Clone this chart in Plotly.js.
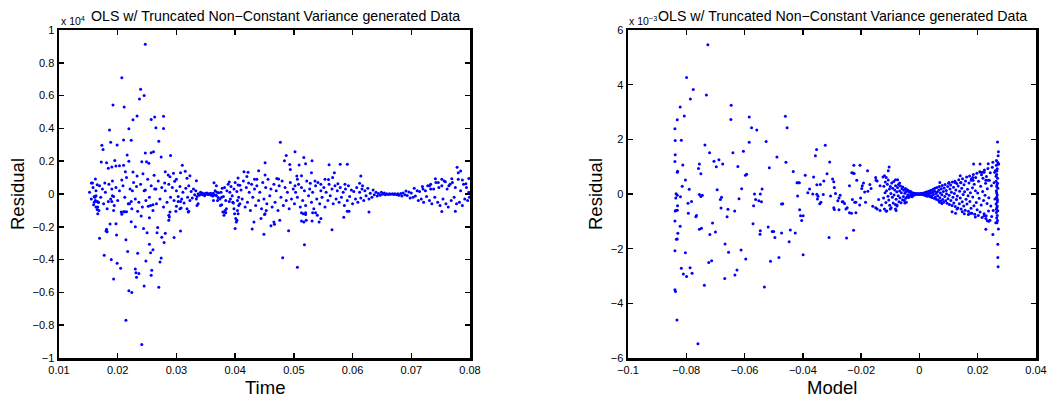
<!DOCTYPE html>
<html>
<head>
<meta charset="utf-8">
<script src="https://cdn.plot.ly/plotly-3.0.1.min.js"></script>
<style>html,body{margin:0;padding:0;background:#fff;}#chart{width:1063px;height:401px;}</style>
</head>
<body>
<div id="chart"></div>
<script>
// ---------- Data: left panel (Time vs Residual, axis x 10^4) ----------
const timeUpper = [
[0.0247,0.913],[0.0207,0.709],[0.0239,0.638],[0.0237,0.579],[0.0245,0.600],[0.0192,0.543],[0.0211,0.530],[0.0233,0.476],[0.0226,0.453],[0.0263,0.470],
[0.0278,0.474],[0.0257,0.455],[0.0265,0.404],[0.0278,0.400],[0.0186,0.390],[0.0219,0.398],[0.0210,0.329],[0.0223,0.327],[0.0270,0.321],[0.0188,0.315],
[0.0199,0.299],[0.0173,0.297],[0.0175,0.272],[0.0216,0.238],[0.0247,0.250],[0.0257,0.252],[0.0261,0.258],[0.0274,0.226],[0.0290,0.234],[0.0172,0.195],
[0.0181,0.191],[0.0195,0.205],[0.0184,0.157],[0.0190,0.165],[0.0197,0.171],[0.0203,0.173],[0.0210,0.175],[0.0219,0.199],[0.0241,0.197],[0.0249,0.197],
[0.0253,0.187],[0.0213,0.136],[0.0226,0.134],[0.0243,0.124],[0.0262,0.114],[0.0281,0.136],[0.0286,0.116],[0.0310,0.175],[0.0315,0.138],[0.0307,0.130],
[0.0295,0.126],[0.0300,0.090],[0.0289,0.105],[0.0207,0.085],[0.0162,0.091],[0.0155,0.067],[0.0157,0.067],[0.0178,0.067],[0.0165,0.057],[0.0232,0.045],
[0.0280,0.067],[0.0297,0.077],[0.0323,0.112],[0.0334,0.081],[0.0318,0.096],[0.0364,0.069],[0.0368,0.050],[0.0390,0.073],[0.0405,0.098],[0.0415,0.136],
[0.0422,0.132],[0.0420,0.107],[0.0440,0.142],[0.0437,0.090],[0.0433,0.090],[0.0423,0.067],[0.0408,0.054],[0.0190,0.030],[0.0247,0.025],[0.0265,0.030],
[0.0225,0.020],[0.0477,0.315],[0.0487,0.234],[0.0502,0.258],[0.0484,0.203],[0.0451,0.191],[0.0493,0.180],[0.0509,0.177],[0.0517,0.222],[0.0520,0.185],
[0.0531,0.203],[0.0494,0.150],[0.0530,0.130],[0.0560,0.179],[0.0579,0.181],[0.0591,0.181],[0.0569,0.130],[0.0505,0.110],[0.0506,0.090],[0.0513,0.112],
[0.0451,0.116],[0.0471,0.094],[0.0474,0.092],[0.0553,0.090],[0.0559,0.088],[0.0566,0.100],[0.0614,0.110],[0.0575,0.062],[0.0587,0.060],[0.0612,0.065],
[0.0617,0.050],[0.0536,0.080],[0.0546,0.060],[0.0528,0.065],[0.0502,0.050],[0.0778,0.163],[0.0784,0.140],[0.0780,0.130],[0.0741,0.093],[0.0752,0.090],
[0.0746,0.070],[0.0758,0.075],[0.0769,0.093],[0.0787,0.085],[0.0798,0.095],[0.0793,0.062],[0.0764,0.050],[0.0731,0.050],[0.0720,0.030],[0.0733,0.030]
];
const timeLower = [
[0.0241,-0.917],[0.0214,-0.770],[0.0219,-0.590],[0.0224,-0.600],[0.0245,-0.561],[0.0270,-0.569],[0.0193,-0.518],[0.0257,-0.496],[0.0232,-0.508],[0.0231,-0.480],
[0.0236,-0.485],[0.0230,-0.457],[0.0258,-0.465],[0.0205,-0.453],[0.0199,-0.423],[0.0189,-0.400],[0.0177,-0.374],[0.0248,-0.409],[0.0234,-0.362],[0.0217,-0.350],
[0.0254,-0.307],[0.0256,-0.358],[0.0260,-0.340],[0.0272,-0.415],[0.0274,-0.390],[0.0169,-0.270],[0.0214,-0.279],[0.0198,-0.250],[0.0180,-0.225],[0.0182,-0.230],
[0.0181,-0.215],[0.0187,-0.183],[0.0197,-0.181],[0.0223,-0.169],[0.0230,-0.199],[0.0240,-0.134],[0.0244,-0.210],[0.0250,-0.236],[0.0267,-0.236],[0.0268,-0.205],
[0.0279,-0.295],[0.0281,-0.240],[0.0296,-0.266],[0.0275,-0.263],[0.0307,-0.226],[0.0254,-0.145],[0.0210,-0.108],[0.0212,-0.108],[0.0215,-0.108],[0.0207,-0.123],
[0.0234,-0.105],[0.0193,-0.100],[0.0162,-0.040],[0.0165,-0.045],[0.0167,-0.050],[0.0159,-0.065],[0.0163,-0.080],[0.0165,-0.095],[0.0166,-0.120],[0.0168,-0.100],
[0.0167,-0.050],[0.0163,-0.010],[0.0161,-0.020],[0.0160,-0.015],[0.0184,-0.046],[0.0190,-0.045],[0.0191,-0.010],[0.0193,-0.015],[0.0220,-0.060],[0.0223,-0.045],
[0.0252,-0.075],[0.0256,-0.070],[0.0260,-0.065],[0.0287,-0.130],[0.0288,-0.140],[0.0287,-0.160],[0.0289,-0.110],[0.0307,-0.045],[0.0303,-0.045],[0.0308,-0.085],
[0.0306,-0.090],[0.0300,-0.075],[0.0299,-0.105],[0.0318,-0.090],[0.0320,-0.110],[0.0321,-0.105],[0.0335,-0.070],[0.0334,-0.030],[0.0337,-0.060],[0.0363,-0.040],
[0.0370,-0.040],[0.0377,-0.020],[0.0377,-0.065],[0.0375,-0.070],[0.0379,-0.110],[0.0381,-0.110],[0.0383,-0.100],[0.0385,-0.090],[0.0384,-0.115],[0.0381,-0.130],
[0.0392,-0.030],[0.0390,-0.045],[0.0396,-0.050],[0.0397,-0.055],[0.0398,-0.090],[0.0399,-0.120],[0.0401,-0.150],[0.0402,-0.170],[0.0400,-0.210],[0.0403,-0.160],
[0.0405,-0.120],[0.0404,-0.100],[0.0406,-0.070],[0.0404,-0.040],[0.0406,-0.020],[0.0429,-0.213],[0.0449,-0.246],[0.0444,-0.150],[0.0432,-0.170],[0.0506,-0.447],
[0.0481,-0.388],[0.0518,-0.309],[0.0491,-0.224],[0.0565,-0.218],[0.0461,-0.193],[0.0467,-0.185],[0.0466,-0.170],[0.0476,-0.160],[0.0521,-0.160],[0.0531,-0.165],
[0.0543,-0.170],[0.0546,-0.150],[0.0540,-0.130],[0.0537,-0.115],[0.0532,-0.115],[0.0585,-0.142],[0.0517,-0.170],[0.0513,-0.165],[0.0520,-0.115],[0.0520,-0.125],
[0.0516,-0.120],[0.0513,-0.115],[0.0591,-0.105],[0.0594,-0.105],[0.0628,-0.110],[0.0752,-0.106],[0.0775,-0.105],[0.0453,-0.100],[0.0451,-0.120],[0.0450,-0.125]
];
const timeBand = [
[0.0152,0.010],[0.0155,-0.030],[0.0158,0.040],[0.0160,-0.050],[0.0163,0.020],[0.0166,-0.080],[0.0169,0.050],[0.0171,-0.020],[0.0174,0.030],[0.0176,-0.060],
[0.0179,0.010],[0.0182,-0.090],[0.0185,0.060],[0.0188,-0.030],[0.0191,0.080],[0.0194,-0.070],[0.0197,0.040],[0.0200,-0.040],[0.0203,0.020],[0.0206,-0.110],
[0.0209,0.050],[0.0212,-0.020],[0.0215,0.100],[0.0218,-0.060],[0.0221,0.030],[0.0224,-0.090],[0.0227,0.070],[0.0230,-0.030],[0.0233,0.110],[0.0236,-0.050],
[0.0239,0.060],[0.0242,-0.080],[0.0245,0.020],[0.0248,-0.040],[0.0251,0.090],[0.0254,-0.020],[0.0257,0.050],[0.0260,-0.100],[0.0263,0.030],[0.0266,-0.060],
[0.0269,0.080],[0.0272,-0.030],[0.0275,0.040],[0.0278,-0.080],[0.0281,0.020],[0.0284,-0.050],[0.0287,0.060],[0.0290,-0.020],[0.0293,0.040],[0.0296,-0.040],
[0.0300,0.020],[0.0303,-0.015],[0.0306,0.045],[0.0309,-0.030],[0.0311,0.010],[0.0313,-0.055],[0.0316,0.035],[0.0319,-0.020],[0.0321,0.050],[0.0323,-0.040],
[0.0325,0.015],[0.0327,-0.025],[0.0329,0.030],[0.0331,-0.004],[0.0333,0.020],[0.0335,-0.015],[0.0337,0.002],[0.0339,-0.008],[0.0341,0.010],[0.0342,-0.002],
[0.0344,0.006],[0.0345,-0.005],[0.0347,0.001],[0.0348,-0.010],[0.0350,0.004],[0.0351,-0.001],[0.0352,0.006],[0.0354,-0.003],[0.0355,0.001],[0.0356,-0.002],
[0.0358,0.005],[0.0359,-0.007],[0.0360,0.002],[0.0362,-0.012],[0.0363,0.004],[0.0365,-0.006],[0.0366,0.020],[0.0368,-0.009],[0.0369,0.011],[0.0371,-0.022],
[0.0372,0.008],[0.0374,-0.030],[0.0376,0.010],[0.0378,0.035],[0.0380,-0.015],[0.0382,0.040],[0.0384,-0.040],[0.0386,0.020],[0.0388,0.060],[0.0391,0.010],
[0.0393,0.045],[0.0395,-0.010],[0.0398,0.030],[0.0400,0.070],[0.0403,0.015],[0.0405,0.055],[0.0408,-0.060],[0.0410,0.025],[0.0412,-0.030],[0.0414,0.080],
[0.0417,-0.080],[0.0419,0.040],[0.0421,-0.050],[0.0424,0.010],[0.0426,-0.100],[0.0428,0.060],[0.0430,-0.020],[0.0433,0.030],[0.0435,-0.070],[0.0437,0.050],
[0.0440,-0.040],[0.0442,0.010],[0.0445,-0.090],[0.0447,0.070],[0.0449,-0.030],[0.0452,0.040],[0.0454,-0.060],[0.0456,0.090],[0.0459,-0.010],[0.0461,0.030],
[0.0463,-0.080],[0.0466,0.060],[0.0468,-0.050],[0.0470,0.020],[0.0473,-0.100],[0.0475,0.050],[0.0478,-0.020],[0.0480,0.080],[0.0482,-0.070],[0.0485,0.040],
[0.0487,-0.040],[0.0489,0.010],[0.0492,-0.090],[0.0494,0.070],[0.0496,-0.030],[0.0499,0.030],[0.0501,-0.060],[0.0503,0.010],[0.0506,-0.020],[0.0508,0.060],
[0.0511,-0.080],[0.0513,0.040],[0.0515,-0.040],[0.0518,0.020],[0.0520,-0.070],[0.0522,0.080],[0.0525,-0.010],[0.0527,0.030],[0.0530,-0.050],[0.0532,0.010],
[0.0534,-0.090],[0.0537,0.050],[0.0539,-0.030],[0.0541,0.070],[0.0544,-0.060],[0.0546,0.020],[0.0548,-0.020],[0.0551,0.040],[0.0553,-0.080],[0.0555,0.010],
[0.0558,-0.040],[0.0560,0.060],[0.0562,-0.010],[0.0565,0.030],[0.0567,-0.060],[0.0570,0.050],[0.0572,-0.030],[0.0574,0.020],[0.0577,-0.050],[0.0579,0.040],
[0.0581,-0.020],[0.0584,0.010],[0.0586,-0.070],[0.0588,0.030],[0.0591,-0.040],[0.0593,0.050],[0.0595,-0.015],[0.0598,0.025],[0.0600,-0.060],[0.0602,0.015],
[0.0605,-0.030],[0.0607,0.040],[0.0609,-0.050],[0.0612,0.010],[0.0614,-0.025],[0.0616,0.030],[0.0619,-0.040],[0.0621,0.020],[0.0623,-0.010],[0.0626,0.035],
[0.0628,-0.030],[0.0630,0.004],[0.0633,-0.020],[0.0635,0.025],[0.0637,-0.005],[0.0640,0.010],[0.0642,-0.012],[0.0644,0.003],[0.0647,-0.008],[0.0649,0.010],
[0.0651,-0.002],[0.0654,0.006],[0.0656,-0.005],[0.0658,0.001],[0.0661,-0.003],[0.0663,0.002],[0.0665,-0.001],[0.0668,0.002],[0.0670,-0.003],[0.0672,0.001],
[0.0675,-0.005],[0.0677,0.002],[0.0679,-0.008],[0.0682,0.003],[0.0684,-0.012],[0.0686,0.006],[0.0689,-0.004],[0.0691,0.018],[0.0693,-0.009],[0.0696,0.012],
[0.0698,-0.025],[0.0700,0.006],[0.0703,-0.020],[0.0705,0.035],[0.0707,-0.012],[0.0710,0.020],[0.0712,-0.040],[0.0714,0.015],[0.0717,-0.030],[0.0719,0.045],
[0.0721,-0.050],[0.0724,0.020],[0.0726,-0.015],[0.0728,0.050],[0.0731,-0.040],[0.0733,0.060],[0.0735,-0.060],[0.0738,0.030],[0.0740,-0.020],[0.0742,0.070],
[0.0745,-0.050],[0.0747,0.040],[0.0749,-0.070],[0.0752,0.050],[0.0754,-0.030],[0.0756,0.080],[0.0759,-0.060],[0.0761,0.030],[0.0763,-0.080],[0.0766,0.060],
[0.0768,-0.040],[0.0770,0.070],[0.0773,-0.020],[0.0775,0.040],[0.0777,-0.060],[0.0780,0.090],[0.0782,-0.050],[0.0784,0.020],[0.0787,-0.070],[0.0789,0.060],
[0.0791,-0.030],[0.0794,0.040],[0.0796,-0.040],[0.0798,0.010],[0.0799,-0.020]
];

// ---------- Data: right panel (Model vs Residual, axis x 10^-3) ----------
const modelUpper = [
[-0.0726,5.46],[-0.0799,4.26],[-0.0776,3.82],[-0.0786,3.48],[-0.0731,3.62],[-0.0821,3.18],[-0.0807,2.85],[-0.0831,2.72],[-0.0839,2.39],[-0.0838,1.96],
[-0.0817,1.97],[-0.0838,1.44],[-0.0839,1.19],[-0.0830,0.83],[-0.0831,0.80],[-0.0812,1.06],[-0.0803,0.51],[-0.0814,0.28],[-0.0790,0.17],[-0.0835,0.01],
[-0.0646,3.25],[-0.0647,2.73],[-0.0584,2.82],[-0.0576,2.42],[-0.0558,2.34],[-0.0584,1.89],[-0.0526,1.92],[-0.0736,1.79],[-0.0720,1.51],[-0.0640,1.51],
[-0.0604,1.56],[-0.0755,1.10],[-0.0758,0.93],[-0.0705,1.20],[-0.0697,1.00],[-0.0688,1.25],[-0.0675,1.10],[-0.0750,0.74],[-0.0623,1.01],[-0.0597,0.69],
[-0.0593,0.72],[-0.0610,0.19],[-0.0694,0.16],[-0.0540,0.18],[-0.0546,0.00],[-0.0460,2.84],[-0.0454,2.42],[-0.0489,1.35],[-0.0458,1.16],[-0.0515,0.96],
[-0.0433,0.82],[-0.0420,0.41],[-0.0416,0.41],[-0.0412,0.41],[-0.0392,0.69],[-0.0363,0.62],[-0.0357,1.40],[-0.0353,1.63],[-0.0323,1.78],[-0.0308,1.17],
[-0.0317,0.74],[-0.0328,0.48],[-0.0340,0.35],[-0.0352,0.34],[-0.0377,0.18],[-0.0366,0.00],[-0.0383,0.05],[-0.0298,0.55],[-0.0294,0.45],[-0.0292,0.24],
[-0.0288,0.02],[-0.0232,0.78],[-0.0228,0.77],[-0.0225,1.05]
];
const modelLower = [
[-0.0760,-5.48],[-0.0832,-4.61],[-0.0839,-3.50],[-0.0837,-3.57],[-0.0532,-3.40],[-0.0738,-3.34],[-0.0817,-2.72],[-0.0787,-2.70],[-0.0810,-2.93],[-0.0799,-3.02],
[-0.0780,-2.90],[-0.0723,-2.51],[-0.0713,-2.44],[-0.0668,-3.09],[-0.0633,-2.96],[-0.0626,-2.78],[-0.0667,-1.83],[-0.0655,-2.13],[-0.0612,-2.05],[-0.0596,-2.38],
[-0.0839,-2.08],[-0.0803,-2.15],[-0.0834,-1.66],[-0.0831,-1.65],[-0.0829,-1.44],[-0.0821,-1.18],[-0.0839,-0.99],[-0.0838,-0.62],[-0.0836,-0.60],[-0.0831,-0.59],
[-0.0830,-0.43],[-0.0836,-0.15],[-0.0831,-0.05],[-0.0820,-0.10],[-0.0794,-0.34],[-0.0782,-0.27],[-0.0793,-0.70],[-0.0767,-0.83],[-0.0765,-0.79],[-0.0755,-1.29],
[-0.0748,-1.25],[-0.0719,-1.48],[-0.0700,-1.39],[-0.0710,-1.06],[-0.0681,-0.51],[-0.0657,-0.56],[-0.0660,-0.83],[-0.0634,-0.62],[-0.0683,-0.20],[-0.0679,-0.12],
[-0.0755,-0.02],[-0.0750,-0.09],[-0.0745,-0.05],[-0.0619,-0.17],[-0.0571,-1.09],[-0.0569,-0.43],[-0.0566,0.00],[-0.0562,-0.20],[-0.0551,-0.25],[-0.0542,-0.28],
[-0.0519,-1.21],[-0.0546,-1.34],[-0.0547,-1.47],[-0.0505,-1.37],[-0.0500,-1.37],[-0.0496,-1.59],[-0.0473,-1.43],[-0.0511,-2.46],[-0.0482,-2.32],[-0.0473,-0.37],
[-0.0469,-0.36],[-0.0443,-1.32],[-0.0426,-1.43],[-0.0447,-1.75],[-0.0399,-2.22],[-0.0418,-0.07],[-0.0411,-0.58],[-0.0408,-0.80],[-0.0399,-0.80],[-0.0404,-0.97],
[-0.0352,-0.01],[-0.0348,-0.08],[-0.0350,-0.18],[-0.0342,-0.36],[-0.0338,-0.30],[-0.0330,-0.02],[-0.0305,-0.07],[-0.0310,-1.59],[-0.0294,-0.50],[-0.0292,-0.57],
[-0.0280,-0.25],[-0.0276,-0.15],[-0.0272,-0.05],[-0.0265,-0.28],[-0.0262,-0.28],[-0.0257,-0.35],[-0.0252,-0.55],[-0.0248,-0.50],[-0.0276,-0.58],[-0.0240,-0.69],
[-0.0233,-0.70],[-0.0250,-1.61],[-0.0226,-1.33],[-0.0222,-0.30],[-0.0218,-0.30]
];
const modelEdge = [
[0.0268,1.90],[0.0271,1.55],[0.0270,1.40],[0.0264,1.23],[0.0270,1.10],[0.0272,1.10],[0.0252,1.16],[0.0236,1.11],[0.0208,1.10],[0.0186,1.10],
[0.0222,0.80],[0.0216,0.80],[0.0210,0.80],[0.0140,0.67],[0.0183,0.60],[0.0258,0.80],[0.0236,0.50],[-0.0104,0.99],[-0.0107,0.85],[-0.0120,0.67],
[-0.0114,0.60],[-0.0204,1.05],[-0.0178,0.85],[-0.0224,0.75],[-0.0192,0.40],[-0.0196,0.30],[-0.0149,0.50],[-0.0145,0.48],[-0.0188,0.07],[-0.0177,0.10],
[-0.0166,0.20],[-0.0082,0.52],[-0.0075,0.52],[-0.0068,0.40],[0.0070,0.42],[0.0102,0.42],[0.0122,0.42],[0.0142,0.42],[0.0178,0.50],[0.0184,0.50],
[0.0228,0.50],[0.0270,-2.66],[0.0269,-2.32],[0.0269,-1.84],[0.0252,-1.48],[0.0228,-1.29],[0.0271,-1.28],[0.0266,-1.05],[0.0262,-1.05],[0.0238,-1.00],
[0.0233,-0.98],[0.0222,-0.80],[0.0229,-0.80],[0.0192,-0.84],[0.0175,-0.70],[0.0168,-0.75],[0.0154,-0.72],[0.0147,-0.65],[0.0129,-0.55],[0.0112,-0.65],
[0.0124,-0.70],[0.0077,-0.35],[0.0069,-0.30],[-0.0218,-0.69],[-0.0202,-0.15],[-0.0150,-0.50],[-0.0145,-0.55],[-0.0135,-0.60],[-0.0115,-0.62],[-0.0100,-0.55],
[-0.0082,-0.55],[-0.0080,-0.60],[-0.0077,-0.40],[-0.0045,-0.30],[-0.0050,-0.33],[-0.0025,-0.10],[-0.0020,-0.05],
[-0.0240,0.30],[-0.0230,-0.20],[-0.0215,0.50],[-0.0205,-0.40],[-0.0198,0.20],[-0.0185,-0.30],[-0.0170,0.35],[-0.0160,-0.45],[-0.0150,0.60],[-0.0140,-0.20],
[-0.0135,0.30],[-0.0130,-0.40]
];
const modelBand = [
[-0.0125,0.62],[-0.0123,-0.15],[-0.0122,0.28],[-0.0120,-0.55],[-0.0118,0.05],[-0.0117,0.44],[-0.0115,-0.31],[-0.0113,0.12],[-0.0112,-0.62],[-0.0110,0.36],
[-0.0108,-0.08],[-0.0107,0.51],[-0.0105,-0.22],[-0.0103,0.18],[-0.0102,-0.41],[-0.0100,0.27],[-0.0098,0.02],[-0.0097,-0.50],[-0.0095,0.40],[-0.0093,-0.12],
[-0.0092,0.21],[-0.0090,-0.33],[-0.0088,0.46],[-0.0087,-0.04],[-0.0085,0.15],[-0.0083,-0.38],[-0.0082,0.30],[-0.0080,-0.19],[-0.0078,0.08],[-0.0077,-0.44],
[-0.0075,0.24],[-0.0073,-0.06],[-0.0072,0.35],[-0.0070,-0.28],[-0.0068,0.11],[-0.0067,-0.14],[-0.0065,0.29],[-0.0063,-0.32],[-0.0062,0.05],[-0.0060,0.19],
[-0.0058,-0.21],[-0.0057,0.26],[-0.0055,-0.09],[-0.0053,0.14],[-0.0052,-0.24],[-0.0050,0.03],[-0.0048,0.20],[-0.0047,-0.16],[-0.0045,0.09],[-0.0043,-0.11],
[-0.0042,0.16],[-0.0040,-0.04],[-0.0038,0.12],[-0.0037,-0.13],[-0.0035,0.06],[-0.0033,-0.08],[-0.0032,0.10],[-0.0030,-0.02],[-0.0028,0.07],[-0.0027,-0.06],
[-0.0025,0.03],[-0.0023,-0.05],[-0.0022,0.04],[-0.0020,-0.01],[-0.0018,0.03],[-0.0017,-0.03],[-0.0015,0.01],[-0.0013,-0.02],[-0.0012,0.02],[-0.0010,0.00],
[-0.0008,-0.01],[-0.0007,0.01],[-0.0005,0.00],[-0.0003,0.01],[-0.0002,-0.01],[0.0000,0.00],[0.0002,0.01],[0.0003,-0.01],[0.0005,0.02],[0.0007,-0.01],
[0.0008,0.00],[0.0010,0.03],[0.0012,-0.02],[0.0013,0.01],[0.0015,-0.04],[0.0017,0.05],[0.0018,-0.01],[0.0020,0.02],[0.0022,-0.06],[0.0023,0.07],
[0.0025,-0.03],[0.0027,0.04],[0.0028,-0.08],[0.0030,0.09],[0.0032,0.01],[0.0033,-0.05],[0.0035,0.11],[0.0037,-0.10],[0.0038,0.03],[0.0040,0.14],
[0.0042,-0.07],[0.0043,-0.13],[0.0045,0.06],[0.0047,0.17],[0.0048,-0.02],[0.0050,-0.16],[0.0052,0.10],[0.0053,0.21],[0.0055,-0.11],[0.0057,0.02],
[0.0058,-0.19],[0.0060,0.24],[0.0062,0.08],[0.0063,-0.06],[0.0065,-0.23],[0.0067,0.15],[0.0068,0.27],[0.0070,-0.14],[0.0072,0.04],[0.0073,-0.26],
[0.0075,0.19],[0.0077,-0.03],[0.0078,0.31],[0.0080,-0.20],[0.0082,0.09],[0.0083,-0.30],[0.0085,0.22],[0.0087,-0.09],[0.0088,0.35],[0.0090,-0.25],
[0.0092,0.13],[0.0093,0.01],[0.0095,-0.34],[0.0097,0.27],[0.0098,-0.17],[0.0100,0.39],[0.0102,-0.05],[0.0103,-0.38],[0.0105,0.18],[0.0107,0.33],
[0.0108,-0.24],[0.0110,0.06],[0.0112,-0.42],[0.0113,0.44],[0.0115,-0.12],[0.0117,0.25],[0.0118,-0.33],[0.0120,0.02],[0.0122,0.47],[0.0123,-0.46],
[0.0125,0.15],[0.0127,-0.20],[0.0128,0.38],[0.0130,-0.07],[0.0132,-0.51],[0.0133,0.29],[0.0135,0.52],[0.0137,-0.36],[0.0138,0.10],[0.0140,-0.15],
[0.0142,0.41],[0.0143,-0.55],[0.0145,0.21],[0.0147,-0.28],[0.0148,0.56],[0.0150,-0.02],[0.0152,-0.44],[0.0153,0.34],[0.0155,0.08],[0.0157,-0.59],
[0.0158,0.48],[0.0160,-0.19],[0.0162,0.62],[0.0163,-0.37],[0.0165,0.17],[0.0167,-0.06],[0.0168,-0.63],[0.0170,0.40],[0.0172,0.66],[0.0173,-0.27],
[0.0175,0.05],[0.0177,-0.52],[0.0178,0.55],[0.0180,-0.70],[0.0182,0.23],[0.0183,-0.11],[0.0185,0.71],[0.0187,-0.43],[0.0188,0.36],[0.0190,-0.74],
[0.0192,0.12],[0.0193,0.60],[0.0195,-0.31],[0.0197,0.76],[0.0198,-0.58],[0.0200,0.04],[0.0202,-0.79],[0.0203,0.47],[0.0205,-0.16],[0.0207,0.81],
[0.0208,-0.66],[0.0210,0.28],[0.0212,-0.40],[0.0213,0.70],[0.0215,-0.86],[0.0217,0.09],[0.0218,0.58],[0.0220,-0.24],[0.0222,-0.72],[0.0223,0.88],
[0.0225,-0.05],[0.0227,0.39],[0.0228,-0.90],[0.0230,0.64],[0.0232,-0.35],[0.0233,0.19],[0.0235,0.93],[0.0237,-0.62],[0.0238,-0.14],[0.0240,0.50],
[0.0242,-0.96],[0.0243,0.78],[0.0245,-0.44],[0.0247,0.30],[0.0248,-0.82],[0.0250,0.98],[0.0253,-0.60],[0.0256,0.41],[0.0259,-0.18],[0.0261,0.86],
[0.0264,1.05],[0.0267,0.92],[0.0265,0.71],[0.0268,0.58],[0.0263,0.47],[0.0266,0.33],[0.0269,0.21],[0.0264,0.12],[0.0267,-0.03],[0.0265,-0.11],
[0.0268,-0.22],[0.0263,-0.37],[0.0266,-0.49],[0.0269,-0.61],[0.0264,-0.68],[0.0267,-0.79],[0.0265,-0.88],[0.0268,-0.97],[0.0266,0.84],[0.0264,-0.56],
[0.0268,0.39],[0.0265,0.05],[0.0267,-0.29],[0.0263,0.65],[0.0266,-0.15],[0.0269,1.15],[0.0265,0.27],[0.0267,-0.44]
];

// ---------- Text ----------
const titleText = 'OLS w/ Truncated Non\u2212Constant Variance generated Data';
const leftExponent = 'x 10<sup>4</sup>';
const rightExponent = 'x 10<sup>\u22123</sup>';
const leftXLabel = 'Time', rightXLabel = 'Model', yLabel = 'Residual';
const leftXTicks = [0.01,0.02,0.03,0.04,0.05,0.06,0.07,0.08];
const leftYTicks = [-1,-0.8,-0.6,-0.4,-0.2,0,0.2,0.4,0.6,0.8,1];
const rightXTicks = [-0.1,-0.08,-0.06,-0.04,-0.02,0,0.02,0.04];
const rightYTicks = [-6,-4,-2,0,2,4,6];

// ---------- Build ----------
const W = 1063, H = 401;
const px = v => v / W, py = v => 1 - v / H;
const timePts = timeUpper.concat(timeLower, timeBand);
const modelPts = modelUpper.concat(modelLower, modelEdge, modelBand);
const mk = {color: 'rgb(0,0,255)', size: 3, symbol: 'circle', line: {width: 0}};
const traces = [
  {x: timePts.map(p => p[0]), y: timePts.map(p => p[1]), type: 'scatter', mode: 'markers', marker: mk, xaxis: 'x', yaxis: 'y', hoverinfo: 'none'},
  {x: modelPts.map(p => p[0]), y: modelPts.map(p => p[1]), type: 'scatter', mode: 'markers', marker: mk, xaxis: 'x2', yaxis: 'y2', hoverinfo: 'none'}
];
const font = 'Liberation Sans, Arial, Helvetica, sans-serif';
function ax(extra) {
  return Object.assign({
    showgrid: false, zeroline: false, showline: true, linecolor: '#000', linewidth: 2.5,
    mirror: 'ticks', ticks: 'inside', ticklen: 5, tickwidth: 1.5, tickcolor: '#000',
    tickmode: 'array', tickfont: {family: font, size: 11, color: '#000'}, fixedrange: true
  }, extra);
}
const yDom = [(H - 358) / H, (H - 30) / H];
const layout = {
  width: W, height: H, paper_bgcolor: '#fff', plot_bgcolor: '#fff', showlegend: false,
  margin: {l: 0, r: 0, t: 0, b: 0},
  xaxis: ax({domain: [px(59), px(470)], range: [0.01, 0.08], tickvals: leftXTicks, anchor: 'y'}),
  yaxis: ax({domain: yDom, range: [-1, 1], tickvals: leftYTicks, anchor: 'x'}),
  xaxis2: ax({domain: [px(628), px(1036)], range: [-0.1, 0.04], tickvals: rightXTicks, anchor: 'y2'}),
  yaxis2: ax({domain: yDom, range: [-6, 6], tickvals: rightYTicks, anchor: 'x2'}),
  annotations: [
    {text: titleText, x: px(275), y: py(16), xref: 'paper', yref: 'paper', showarrow: false, xanchor: 'center', yanchor: 'middle', font: {family: font, size: 14.2, color: '#000'}},
    {text: titleText, x: px(842), y: py(16), xref: 'paper', yref: 'paper', showarrow: false, xanchor: 'center', yanchor: 'middle', font: {family: font, size: 14.2, color: '#000'}},
    {text: leftExponent, x: px(59), y: py(21), xref: 'paper', yref: 'paper', showarrow: false, xanchor: 'left', yanchor: 'middle', font: {family: font, size: 10.5, color: '#000'}},
    {text: rightExponent, x: px(627), y: py(21), xref: 'paper', yref: 'paper', showarrow: false, xanchor: 'left', yanchor: 'middle', font: {family: font, size: 10.5, color: '#000'}},
    {text: leftXLabel, x: px(265), y: py(387), xref: 'paper', yref: 'paper', showarrow: false, xanchor: 'center', yanchor: 'middle', font: {family: font, size: 18.5, color: '#000'}},
    {text: rightXLabel, x: px(832), y: py(387), xref: 'paper', yref: 'paper', showarrow: false, xanchor: 'center', yanchor: 'middle', font: {family: font, size: 18.5, color: '#000'}},
    {text: yLabel, x: px(17), y: py(194), xref: 'paper', yref: 'paper', showarrow: false, textangle: -90, xanchor: 'center', yanchor: 'middle', font: {family: font, size: 18.5, color: '#000'}},
    {text: yLabel, x: px(595), y: py(194), xref: 'paper', yref: 'paper', showarrow: false, textangle: -90, xanchor: 'center', yanchor: 'middle', font: {family: font, size: 18.5, color: '#000'}}
  ]
};
Plotly.newPlot('chart', traces, layout, {staticPlot: true, displayModeBar: false});
</script>
</body>
</html>
